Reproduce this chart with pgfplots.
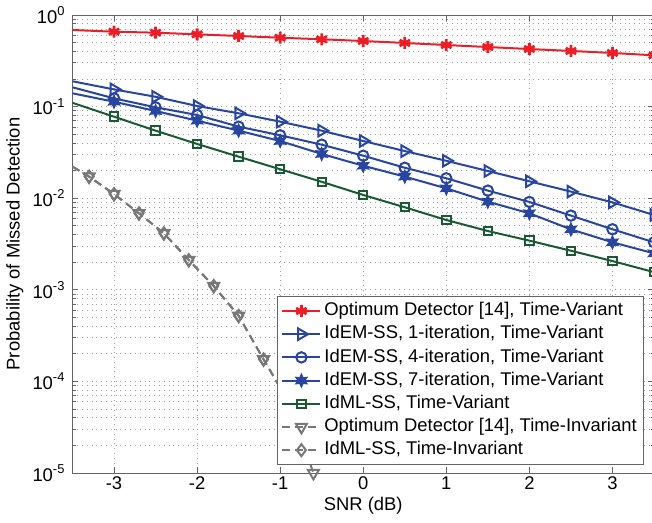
\documentclass[border=0pt]{standalone}
\usepackage{fontspec}
\setmainfont{Liberation Sans}
\usepackage{pgfplots}
\pgfplotsset{compat=1.18}
\definecolor{mred}{RGB}{235,30,40}
\definecolor{mblue}{RGB}{40,70,160}
\definecolor{mgreen}{RGB}{25,90,50}
\definecolor{mgray}{RGB}{120,120,120}
\definecolor{maxis}{RGB}{100,100,100}

% filled six-point star
\pgfdeclareplotmark{hexstar}{%
  \pgfpathmoveto{\pgfpointpolar{90}{\pgfplotmarksize}}%
  \pgfpathlineto{\pgfpointpolar{120}{0.5\pgfplotmarksize}}%
  \pgfpathlineto{\pgfpointpolar{150}{\pgfplotmarksize}}%
  \pgfpathlineto{\pgfpointpolar{180}{0.5\pgfplotmarksize}}%
  \pgfpathlineto{\pgfpointpolar{210}{\pgfplotmarksize}}%
  \pgfpathlineto{\pgfpointpolar{240}{0.5\pgfplotmarksize}}%
  \pgfpathlineto{\pgfpointpolar{270}{\pgfplotmarksize}}%
  \pgfpathlineto{\pgfpointpolar{300}{0.5\pgfplotmarksize}}%
  \pgfpathlineto{\pgfpointpolar{330}{\pgfplotmarksize}}%
  \pgfpathlineto{\pgfpointpolar{0}{0.5\pgfplotmarksize}}%
  \pgfpathlineto{\pgfpointpolar{30}{\pgfplotmarksize}}%
  \pgfpathlineto{\pgfpointpolar{60}{0.5\pgfplotmarksize}}%
  \pgfpathclose
  \pgfusepathqfillstroke}

\begin{document}
\begin{tikzpicture}
\begin{axis}[
    at={(0,0)}, anchor=south west,
    scale only axis,
    width=290.75pt, height=229pt,
    ymode=log,
    xmin=-3.5, xmax=3.5,
    ymin=1e-5, ymax=1,
    xtick={-3,-2,-1,0,1,2,3},
    xticklabels={-3,-2,-1,0,1,2,3},
    ytick={1e-5,1e-4,1e-3,1e-2,1e-1,1},
    yticklabels={10\textsuperscript{-5},10\textsuperscript{-4},10\textsuperscript{-3},10\textsuperscript{-2},10\textsuperscript{-1},10\textsuperscript{0}},
    grid=both,
    major grid style={dotted, gray!75},
    minor grid style={dotted, gray!75},
    axis line style={maxis},
    every tick/.style={maxis},
    major tick length=3pt, minor tick length=1.6pt,
    tick label style={font=\fontsize{9.2}{11}\selectfont},
    xticklabel style={inner ysep=1.5pt},
    label style={font=\fontsize{9.2}{11}\selectfont},
    xlabel={SNR (dB)},
    ylabel={Probability of Missed Detection},
    xlabel style={at={(axis description cs:0.5,-0.071)}, anchor=center},
    ylabel style={at={(axis description cs:-0.0989,0.5)}, anchor=center},
    legend cell align=left,
    legend style={at={(axis description cs:0.3517,0.3865)}, anchor=north west,
        draw=maxis, fill=white, font=\fontsize{9.2}{11}\selectfont,
        inner xsep=2pt, inner ysep=1.5pt, row sep=0pt,
        nodes={text height=6.9pt, text depth=2.1pt, inner ysep=1.3pt, inner xsep=1.5pt}},
    legend image code/.code={%
        \draw[mark repeat=2,mark phase=2] plot coordinates {(0pt,0pt) (9.5pt,0pt) (19pt,0pt)};},
    every axis plot/.append style={line width=1pt},
]
\addplot[color=mred, mark=asterisk, mark phase=2, mark size=3pt, mark options={line width=1.4pt}] coordinates {
    (-3.5,0.686) (-3.0,0.657) (-2.5,0.641) (-2.0,0.615) (-1.5,0.590) (-1.0,0.565) (-0.5,0.543)
    (0.0,0.520) (0.5,0.495) (1.0,0.470) (1.5,0.447) (2.0,0.425) (2.5,0.405) (3.0,0.385) (3.5,0.363)
};
\addlegendentry{Optimum Detector [14], Time-Variant}
\addplot[color=mblue, mark=triangle, mark phase=2, mark size=3.3pt, mark options={rotate=-90, solid, line width=1pt}] coordinates {
    (-3.5,0.189) (-3.0,0.154) (-2.5,0.128) (-2.0,0.1015) (-1.5,0.0845) (-1.0,0.0685) (-0.5,0.0546)
    (0.0,0.0421) (0.5,0.0327) (1.0,0.0256) (1.5,0.0198) (2.0,0.0153) (2.5,0.0118) (3.0,0.0090) (3.5,0.00656)
};
\addlegendentry{IdEM-SS, 1-iteration, Time-Variant}
\addplot[color=mblue, mark=o, mark phase=2, mark size=2.6pt, mark options={line width=1pt}] coordinates {
    (-3.5,0.1625) (-3.0,0.123) (-2.5,0.0982) (-2.0,0.081) (-1.5,0.0604) (-1.0,0.0486) (-0.5,0.0384)
    (0.0,0.0291) (0.5,0.0215) (1.0,0.0165) (1.5,0.0121) (2.0,0.0091) (2.5,0.00646) (3.0,0.00458) (3.5,0.0033)
};
\addlegendentry{IdEM-SS, 4-iteration, Time-Variant}
\addplot[color=mblue, mark=hexstar, mark phase=2, mark size=3.2pt, mark options={fill=mblue, line width=0.6pt}] coordinates {
    (-3.5,0.1396) (-3.0,0.113) (-2.5,0.0895) (-2.0,0.0702) (-1.5,0.0546) (-1.0,0.0421) (-0.5,0.0304)
    (0.0,0.0226) (0.5,0.0172) (1.0,0.0128) (1.5,0.00916) (2.0,0.00684) (2.5,0.00457) (3.0,0.0033) (3.5,0.0025)
};
\addlegendentry{IdEM-SS, 7-iteration, Time-Variant}
\addplot[color=mgreen, mark=square, mark phase=2, mark size=2.1pt, mark options={line width=1pt}] coordinates {
    (-3.5,0.110) (-3.0,0.0776) (-2.5,0.0546) (-2.0,0.0391) (-1.5,0.0284) (-1.0,0.0207) (-0.5,0.0151)
    (0.0,0.01084) (0.5,0.00796) (1.0,0.00578) (1.5,0.00438) (2.0,0.00344) (2.5,0.00267) (3.0,0.00206) (3.5,0.00156)
};
\addlegendentry{IdML-SS, Time-Variant}
\addplot[color=mgray, dash pattern=on 4pt off 2.5pt, mark=triangle, mark phase=2, mark size=3.2pt, mark options={rotate=180, solid, line width=1pt}] coordinates {
    (-3.5,0.0221) (-3.3,0.0172) (-3.0,0.0111) (-2.7,0.00684) (-2.4,0.00414) (-2.1,0.00211)
    (-1.8,0.0011) (-1.5,0.00052) (-1.2,0.000174) (-0.9,0.00006) (-0.6,0.00001)
};
\addlegendentry{Optimum Detector [14], Time-Invariant\hspace{12pt}}
\addplot[color=mgray, dash pattern=on 4pt off 2.5pt, mark=diamond, mark phase=2, mark size=3pt, mark options={solid, line width=1pt}] coordinates {
    (-3.5,0.0221) (-3.3,0.0172) (-3.0,0.0111) (-2.7,0.00684) (-2.4,0.00414) (-2.1,0.00211)
    (-1.8,0.0011) (-1.5,0.00052) (-1.2,0.000174) (-0.9,0.00006)
};
\addlegendentry{IdML-SS, Time-Invariant}
\end{axis}
\pgfresetboundingbox
\useasboundingbox (-36.25pt,-25pt) rectangle (289.75pt,236.5pt);
\end{tikzpicture}
\end{document}
